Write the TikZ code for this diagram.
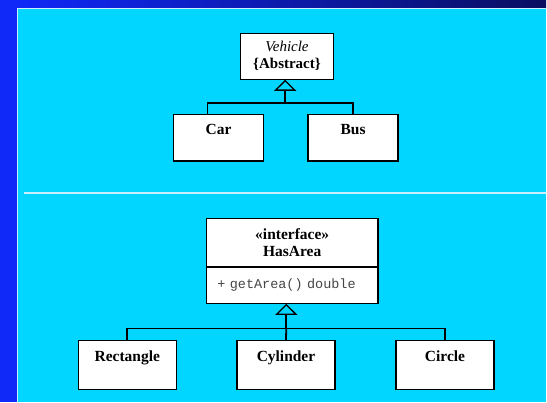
\documentclass[tikz,border=0pt]{standalone}
\usepackage{fontspec}
\setmainfont{Liberation Serif}
\setmonofont{Liberation Mono}
\usetikzlibrary{positioning, arrows.meta}

\definecolor{slideblue}{RGB}{16,40,248}
\definecolor{slidenavy}{RGB}{10,14,96}
\definecolor{panelcyan}{RGB}{0,214,255}
\definecolor{panelrim}{RGB}{200,240,255}
\definecolor{opgray}{RGB}{70,70,70}

\begin{document}
\begin{tikzpicture}[
    x=1pt, y=-1pt,
    cls/.style={
        draw,
        fill=white,
        line width=1.3pt,
        align=center,
        minimum width=90pt,
        inner ysep=4pt,
        text height=15.7pt,
        text depth=22.7pt,
        font=\fontsize{15.5}{17}\selectfont\bfseries
    },
    figbox/.style={
        cls,
        minimum width=98pt,
        text height=16.7pt,
        text depth=24.3pt
    },
    head/.style={
        draw,
        fill=white,
        line width=1.3pt,
        align=center,
        font=\fontsize{15}{17}\selectfont
    },
    member/.style={
        draw,
        fill=white,
        line width=1.3pt,
        align=left,
        inner xsep=11pt,
        text width=150pt,
        minimum height=36.4pt,
        font=\fontsize{13.5}{15}\selectfont\ttfamily\color{opgray}
    },
    tree/.style={
        line width=1.8pt
    },
    gen/.style={
        tree,
        -{Triangle[open, length=11pt, width=22pt, line width=1.3pt]}
    }
]

% slide background
\fill[slideblue] (0,0) rectangle (547,403);
\shade[left color=slideblue, right color=slidenavy] (17,0) rectangle (547,8);
\fill[panelcyan] (17,8) rectangle (547,403);
\draw[panelrim, line width=1.2pt] (17.6,403) |- (547,8.6);
\draw[panelrim, line width=2pt] (24,193.3) -- (547,193.3);

% abstract class
\node[head, minimum width=93.5pt, minimum height=46pt] (vehicle) at (287.5,56.3)
    {\textit{Vehicle}\\\textbf{\{Abstract\}}};
\node[cls, anchor=north] (car) at (218.9,114.3) {Car};
\node[cls, anchor=north] (bus) at (353.7,114.3) {Bus};

\coordinate (vjoin) at (285.7,103.3);
\draw[tree] ([xshift=-11pt]car.north) |- (bus.north |- vjoin) -- (bus.north);
\draw[gen] (vjoin) -- (vjoin |- vehicle.south);

% interface
\node[head, minimum width=172pt, minimum height=48.3pt, font=\fontsize{15.5}{17}\selectfont\bfseries] (hasarea) at (292.7,243.2)
    {«interface»\\HasArea};
\node[member, below=-1.3pt of hasarea] (hasareaops) {+ getArea() double};

\node[figbox, anchor=north] (rectangle) at (127.5,340.7) {Rectangle};
\node[figbox, anchor=north] (cylinder) at (286.5,340.7) {Cylinder};
\node[figbox, anchor=north] (circle) at (445.8,340.7) {Circle};

\coordinate (ajoin) at (286.8,329);
\draw[tree] (rectangle.north) |- (circle.north |- ajoin) -- (circle.north);
\draw[tree] (cylinder.north) -- (ajoin);
\draw[gen] (ajoin) -- (ajoin |- hasareaops.south);

\end{tikzpicture}
\end{document}
